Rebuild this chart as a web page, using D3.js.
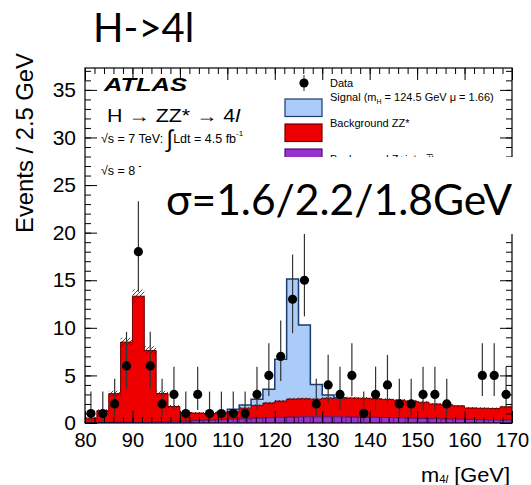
<!DOCTYPE html>
<html>
<head>
<meta charset="utf-8">
<script src="https://cdn.jsdelivr.net/npm/d3@7/dist/d3.min.js"></script>
<style>
  body { margin: 0; background: #fff; }
  text { font-family: "Liberation Sans", Arial, sans-serif; }
</style>
</head>
<body>
<svg id="chart" width="531" height="485"></svg>
<script>
// =========================
// DATI (bin da 2.5 GeV)
// =========================
const binLow = [80, 82.5, 85, 87.5, 90, 92.5, 95, 97.5, 100, 102.5, 105, 107.5,
  110, 112.5, 115, 117.5, 120, 122.5, 125, 127.5, 130, 132.5, 135, 137.5,
  140, 142.5, 145, 147.5, 150, 152.5, 155, 157.5, 160, 162.5, 165, 167.5];

// Background Z+jets, ttbar (viola)
const otherBkg = [0.05, 0.05, 0.08, 0.1, 0.12, 0.12, 0.15, 0.18, 0.2, 0.25, 0.3, 0.35,
  0.4, 0.45, 0.5, 0.55, 0.6, 0.62, 0.65, 0.65, 0.65, 0.65, 0.63, 0.6,
  0.6, 0.58, 0.55, 0.5, 0.48, 0.45, 0.42, 0.4, 0.38, 0.35, 0.33, 0.3];

// Background ZZ* (rosso)
const zzBkg = [0.45, 1.25, 3.0, 8.4, 13.2, 7.5, 2.95, 1.55, 0.9, 0.8, 0.7, 0.75,
  0.8, 1.1, 1.35, 1.55, 1.7, 1.9, 1.9, 1.85, 1.95, 1.95, 2.0, 2.0,
  1.95, 1.9, 1.85, 1.8, 1.7, 1.55, 1.5, 1.4, 1.2, 1.2, 1.2, 1.4];

// Signal mH = 124.5 GeV (azzurro)
const signal = [0, 0, 0, 0, 0, 0, 0, 0, 0, 0, 0, 0,
  0.25, 0.35, 0.65, 1.45, 4.4, 12.6, 7.75, 1.55, 0.35, 0.05, 0, 0,
  0, 0, 0, 0, 0, 0, 0, 0, 0, 0, 0, 0];

// incertezza sul fondo (banda tratteggiata)
const bkgUnc = [0.1, 0.15, 0.3, 0.45, 0.7, 0.45, 0.3, 0.15, 0.1, 0.1, 0.1, 0.1,
  0.1, 0.12, 0.12, 0.12, 0.12, 0.12, 0.12, 0.12, 0.12, 0.12, 0.12, 0.12,
  0.12, 0.12, 0.12, 0.12, 0.12, 0.1, 0.1, 0.1, 0.1, 0.1, 0.1, 0.1];

// Data (eventi per bin)
const dataCounts = [1, 1, 2, 6, 18, 6, 2, 3, 1, 3, 1, 1,
  1, 1, 3, 5, 7, 13, 15, 2, 4, 3, 5, 1,
  3, 4, 2, 2, 3, 3, 2, 0, 0, 5, 5, 3];

// intervalli di Poisson (68%) per i conteggi presenti
const poissonN  = [1, 2, 3, 4, 5, 6, 7, 13, 15, 18];
const poissonLo = [0.17, 0.71, 1.37, 2.09, 2.84, 3.62, 4.42, 9.44, 11.2, 13.8];
const poissonHi = [3.30, 4.64, 5.92, 7.16, 8.38, 9.58, 10.77, 17.7, 19.95, 23.3];

const xTicks = [80, 90, 100, 110, 120, 130, 140, 150, 160, 170];
const yTicks = [0, 5, 10, 15, 20, 25, 30, 35];

// =========================
// SETUP
// =========================
const W = 531, H = 485;
const svg = d3.select('#chart');

const x = d3.scaleLinear().domain([80, 170]).range([85, 512]);
const y = d3.scaleLinear().domain([0, 37.3]).range([423, 68]);

const colSignal = '#abcbf9';
const colZZ = '#ee0000';
const colOther = '#9932cc';

const rows = binLow.map((b, i) => ({ x: b, other: otherBkg[i], zz: zzBkg[i], sig: signal[i], unc: bkgUnc[i] }));
// punto finale per chiudere l'ultimo step
rows.push(Object.assign({}, rows[rows.length - 1], { x: 170 }));

const stack = d3.stack().keys(['other', 'zz', 'sig'])(rows);

const defs = svg.append('defs');
const pat = defs.append('pattern')
  .attr('id', 'hatch')
  .attr('patternUnits', 'userSpaceOnUse')
  .attr('width', 4).attr('height', 4);
pat.append('path')
  .attr('d', 'M-1,1 l2,-2 M0,4 l4,-4 M3,5 l2,-2')
  .attr('stroke', '#222').attr('stroke-width', 0.8);

const area = d3.area()
  .curve(d3.curveStepAfter)
  .x(d => x(d.data.x))
  .y0(d => y(d[0]))
  .y1(d => y(d[1]));

const topLine = d3.line()
  .curve(d3.curveStepAfter)
  .x(d => x(d.data.x))
  .y(d => y(d[1]));

// =========================
// ISTOGRAMMI
// =========================
const fills = [colOther, colZZ, colSignal];
const strokes = ['#4b1070', '#6a0000', '#1d3a6e'];

stack.forEach((layer, li) => {
  svg.append('path')
    .datum(layer)
    .attr('fill', fills[li])
    .attr('d', area);
});

// bordi dei bin viola
svg.append('g').selectAll('line')
  .data(stack[0].slice(0, -1))
  .join('line')
  .attr('x1', d => x(d.data.x)).attr('x2', d => x(d.data.x))
  .attr('y1', d => y(d[0])).attr('y2', d => y(d[1]))
  .attr('stroke', '#5a1a80').attr('stroke-width', 1);

svg.append('path').datum(stack[0])
  .attr('fill', 'none').attr('stroke', strokes[0]).attr('stroke-width', 1)
  .attr('d', topLine);

// banda di incertezza sul fondo
const hatchArea = d3.area()
  .curve(d3.curveStepAfter)
  .x(d => x(d.data.x))
  .y0(d => y(d[1] - d.data.unc))
  .y1(d => y(d[1] + d.data.unc));

svg.append('path').datum(stack[1])
  .attr('fill', 'url(#hatch)')
  .attr('d', hatchArea);

svg.append('path').datum(stack[1])
  .attr('fill', 'none').attr('stroke', strokes[1]).attr('stroke-width', 1)
  .attr('d', topLine);

// contorno del segnale solo dove serve
const sigIdx = signal.map((s, i) => s > 0 ? i : -1).filter(i => i >= 0);
const sigFirst = d3.min(sigIdx), sigLast = d3.max(sigIdx) + 1;
svg.append('path').datum(stack[2])
  .attr('fill', 'none').attr('stroke', strokes[2]).attr('stroke-width', 1.5)
  .attr('d', topLine.defined((d, i) => i >= sigFirst - 1 && i <= sigLast));

// =========================
// DATA
// =========================
const pts = binLow.map((b, i) => ({ x: b + 1.25, n: dataCounts[i] })).filter(d => d.n > 0);
pts.forEach(d => {
  const k = poissonN.indexOf(d.n);
  d.lo = poissonLo[k];
  d.hi = poissonHi[k];
});

const gData = svg.append('g');
gData.selectAll('line')
  .data(pts)
  .join('line')
  .attr('x1', d => x(d.x)).attr('x2', d => x(d.x))
  .attr('y1', d => y(d.lo)).attr('y2', d => y(d.hi))
  .attr('stroke', '#333').attr('stroke-width', 1.2);
gData.selectAll('circle')
  .data(pts)
  .join('circle')
  .attr('cx', d => x(d.x)).attr('cy', d => y(d.n))
  .attr('r', 4.6)
  .attr('fill', '#000');

// =========================
// ASSI
// =========================
function cleanAxis(g) {
  g.select('.domain').remove();
  g.selectAll('.tick line').attr('stroke', '#000');
}

const minorX = d3.range(80, 171, 2);
const minorY = d3.range(0, 38, 1);

svg.append('g').attr('transform', `translate(0,${y(0)})`)
  .call(d3.axisBottom(x).tickValues(minorX).tickSize(-6).tickFormat(''))
  .call(cleanAxis);
svg.append('g').attr('transform', `translate(0,${y(0)})`)
  .call(d3.axisBottom(x).tickValues(xTicks).tickSize(-12).tickPadding(10).tickFormat(d3.format('d')))
  .call(cleanAxis)
  .call(g => g.selectAll('text').attr('font-size', 20).attr('fill', '#000')
    .style('font-family', '"Liberation Sans", Arial, sans-serif'));

svg.append('g').attr('transform', `translate(0,${y.range()[1]})`)
  .call(d3.axisTop(x).tickValues(minorX).tickSize(-6).tickFormat(''))
  .call(cleanAxis);
svg.append('g').attr('transform', `translate(0,${y.range()[1]})`)
  .call(d3.axisTop(x).tickValues(xTicks).tickSize(-12).tickFormat(''))
  .call(cleanAxis);

svg.append('g').attr('transform', `translate(${x(80)},0)`)
  .call(d3.axisLeft(y).tickValues(minorY).tickSize(-6).tickFormat(''))
  .call(cleanAxis);
svg.append('g').attr('transform', `translate(${x(80)},0)`)
  .call(d3.axisLeft(y).tickValues(yTicks).tickSize(-12).tickPadding(9).tickFormat(d3.format('d')))
  .call(cleanAxis)
  .call(g => g.selectAll('text').attr('font-size', 21).attr('fill', '#000')
    .style('font-family', '"Liberation Sans", Arial, sans-serif'));

svg.append('g').attr('transform', `translate(${x(170)},0)`)
  .call(d3.axisRight(y).tickValues(minorY).tickSize(-6).tickFormat(''))
  .call(cleanAxis);
svg.append('g').attr('transform', `translate(${x(170)},0)`)
  .call(d3.axisRight(y).tickValues(yTicks).tickSize(-12).tickFormat(''))
  .call(cleanAxis);

svg.append('rect')
  .attr('x', x(80)).attr('y', y.range()[1])
  .attr('width', x(170) - x(80)).attr('height', y(0) - y.range()[1])
  .attr('fill', 'none').attr('stroke', '#000').attr('stroke-width', 1.2);

// titoli assi
svg.append('text')
  .attr('transform', 'translate(33,233) rotate(-90)')
  .attr('font-size', 24)
  .attr('textLength', 180).attr('lengthAdjust', 'spacingAndGlyphs')
  .text('Events / 2.5 GeV');

const xt = svg.append('text').attr('x', 421).attr('y', 482).attr('font-size', 21)
  .attr('textLength', 89).attr('lengthAdjust', 'spacingAndGlyphs');
xt.append('tspan').text('m');
xt.append('tspan').attr('font-size', 11).attr('dy', 1).text('4');
xt.append('tspan').attr('font-size', 11).attr('font-style', 'italic').text('l');
xt.append('tspan').attr('dy', -1).text(' [GeV]');

// =========================
// ETICHETTE ATLAS
// =========================
svg.append('text')
  .attr('x', 104).attr('y', 91)
  .attr('font-size', 19).attr('font-weight', 'bold').attr('font-style', 'italic')
  .attr('textLength', 83).attr('lengthAdjust', 'spacingAndGlyphs')
  .text('ATLAS');

const hz = svg.append('text').attr('x', 107).attr('y', 122).attr('font-size', 18)
  .attr('textLength', 133).attr('lengthAdjust', 'spacingAndGlyphs');
hz.append('tspan').text('H \u2192 ZZ* \u2192 4');
hz.append('tspan').attr('font-style', 'italic').text('l');

const lumi7 = svg.append('text').attr('x', 101).attr('y', 143).attr('font-size', 12.5);
lumi7.append('tspan').text('\u221As = 7 TeV: ');
lumi7.append('tspan').attr('font-size', 24).attr('font-weight', 'lighter').attr('dy', 4).text('\u222B');
lumi7.append('tspan').attr('dy', -4).text('Ldt = 4.5 fb');
lumi7.append('tspan').attr('font-size', 8).attr('dy', -7).text('-1');

const lumi8 = svg.append('text').attr('x', 101).attr('y', 175).attr('font-size', 12.5)
  .text('\u221As = 8 TeV');

// =========================
// LEGENDA
// =========================
const lg = svg.append('g').attr('font-size', 11);
lg.append('line').attr('x1', 304).attr('x2', 304).attr('y1', 75).attr('y2', 91).attr('stroke', '#333');
lg.append('circle').attr('cx', 304).attr('cy', 83).attr('r', 4.6).attr('fill', '#000');
lg.append('text').attr('x', 330).attr('y', 87).text('Data');

const boxes = [
  { y: 99, fill: colSignal, stroke: strokes[2] },
  { y: 124, fill: colZZ, stroke: strokes[1] },
  { y: 149, fill: colOther, stroke: strokes[0] }
];
lg.selectAll('rect').data(boxes).join('rect')
  .attr('x', 285).attr('y', d => d.y).attr('width', 37).attr('height', 17.5)
  .attr('fill', d => d.fill).attr('stroke', d => d.stroke).attr('stroke-width', 1.2);

const st = lg.append('text').attr('x', 330).attr('y', 101);
st.append('tspan').text('Signal (m');
st.append('tspan').attr('font-size', 7).attr('dy', 3).text('H');
st.append('tspan').attr('dy', -3).text(' = 124.5 GeV \u03BC = 1.66)');
lg.append('text').attr('x', 330).attr('y', 127).text('Background ZZ*');
lg.append('text').attr('x', 330).attr('y', 163).text('Background Z+jets, t\u0305t');

// =========================
// SOVRAPPOSIZIONI (slide)
// =========================
// il riquadro bianco taglia la "T" di "TeV" lasciando solo l'inizio della barra
const tPos = lumi8.node().getStartPositionOfChar(7).x;
svg.append('rect')
  .attr('x', tPos + 2.5).attr('y', 157).attr('width', W - tPos).attr('height', 77)
  .attr('fill', '#fff');

svg.append('text')
  .attr('x', 166).attr('y', 215)
  .attr('font-size', 42)
  .style('font-family', 'Lato, "Open Sans", sans-serif')
  .attr('textLength', 346).attr('lengthAdjust', 'spacingAndGlyphs')
  .text('\u03C3=1.6/2.2/1.8GeV');

svg.append('text')
  .attr('x', 93).attr('y', 42)
  .attr('font-size', 40)
  .style('font-family', 'Lato, "Open Sans", sans-serif')
  .text('H->4l');
</script>
</body>
</html>
